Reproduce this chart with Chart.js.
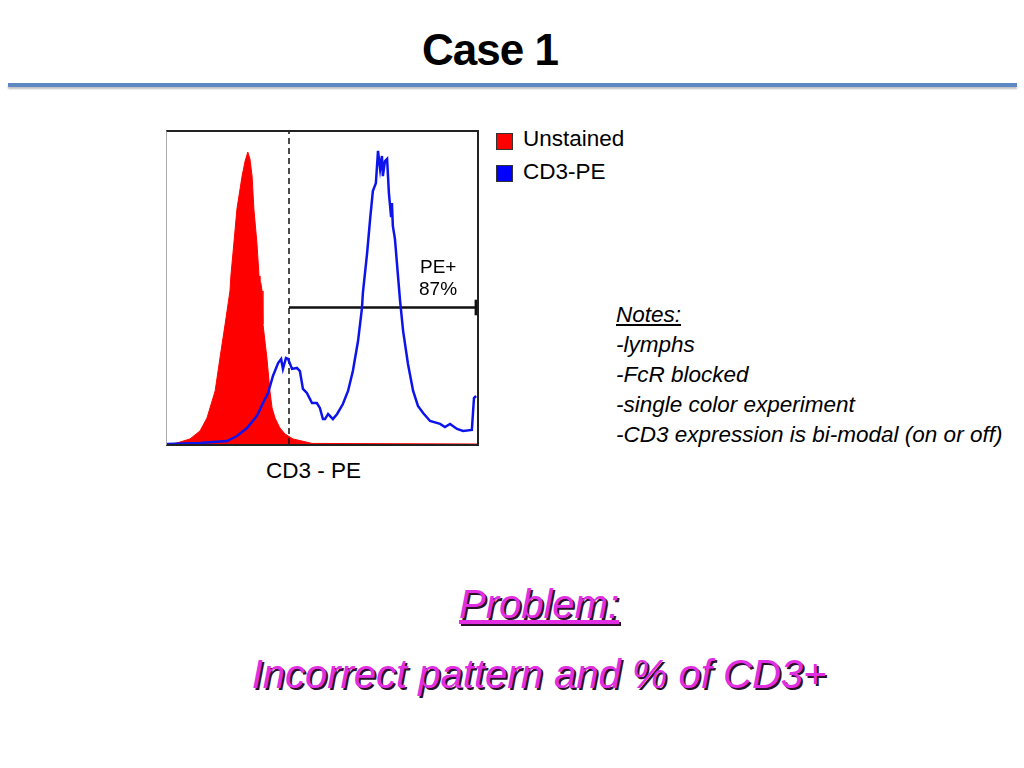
<!DOCTYPE html>
<html lang="en">
<head>
    <meta charset="UTF-8">
    <title>Case 1</title>
    <style>
        body {
            margin: 0;
            width: 1024px;
            height: 768px;
            position: relative;
            background: #fff;
            font-family: "Liberation Sans", Arial, sans-serif;
            color: #000;
            overflow: hidden;
        }
        .txt {
            position: absolute;
            line-height: 1;
            white-space: nowrap;
        }
        .title {
            left: 0;
            width: 980px;
            text-align: center;
            top: 28px;
            font-size: 44px;
            font-weight: bold;
            letter-spacing: -1px;
        }
        .rule {
            position: absolute;
            left: 8px;
            top: 83px;
            width: 1009px;
            height: 4px;
            background: #5e88c4;
            box-shadow: 0 2px 2px rgba(0,0,0,0.25);
        }
        .plot {
            position: absolute;
            left: 166px;
            top: 130px;
            border-top: 2px solid #222;
            border-right: 2px solid #222;
            border-bottom: 2px solid #222;
            border-left: 1px solid #aaa;
        }
        .plot canvas {
            display: block;
        }
        .swatch {
            position: absolute;
            width: 15px;
            height: 15px;
            border: 1px solid #333;
        }
        .label {
            font-size: 22.5px;
        }
        .notes {
            font-size: 22.5px;
            font-style: italic;
        }
        .problem {
            left: 0;
            width: 1078px;
            text-align: center;
            font-size: 40px;
            font-style: italic;
            color: #e22ee2;
            text-shadow: 2px 2px 0 #2a102a;
        }
    </style>
</head>
<body>
    <div class="txt title">Case 1</div>
    <div class="rule"></div>

    <div class="plot">
        <canvas id="histo" width="310" height="312"></canvas>
    </div>
    <div class="txt" style="left:420px; top:257px; font-size:19px;">PE+</div>
    <div class="txt" style="left:419px; top:279px; font-size:19px;">87%</div>

    <div class="swatch" style="left:496px; top:133px; background:#ff0000;"></div>
    <div class="txt label" style="left:523px; top:128px;">Unstained</div>
    <div class="swatch" style="left:496px; top:165px; background:#0000ff;"></div>
    <div class="txt label" style="left:523px; top:161px;">CD3-PE</div>

    <div class="txt label" style="left:266px; top:460px;">CD3 - PE</div>

    <div class="txt notes" style="left:616px; top:304px; text-decoration:underline;">Notes:</div>
    <div class="txt notes" style="left:616px; top:334px;">-lymphs</div>
    <div class="txt notes" style="left:616px; top:364px;">-FcR blocked</div>
    <div class="txt notes" style="left:616px; top:394px;">-single color experiment</div>
    <div class="txt notes" style="left:616px; top:424px;">-CD3 expression is bi-modal (on or off)</div>

    <div class="txt problem" style="top:584px; text-decoration:underline;">Problem:</div>
    <div class="txt problem" style="top:654px;">Incorrect pattern and % of CD3+</div>

    <script src="https://cdn.jsdelivr.net/npm/chart.js"></script>
    <script>
        // fluorescence channel (0-1024) and event counts
        const unstainedChannel = [0, 26, 43, 76, 109, 132, 159, 175, 192, 208, 211, 221, 231, 248, 258, 267, 274, 281, 287, 297, 304, 307, 310, 314, 317, 330, 340, 347, 357, 373, 390, 416, 446, 479, 1024];
        const unstainedCount = [0, 0.3, 1.0, 2.6, 6.7, 13.3, 27.2, 44.1, 61.5, 78.5, 86.2, 103.1, 120.5, 137.4, 145.1, 149.7, 146.2, 137.4, 120.5, 103.1, 86.2, 83.6, 82.6, 78.5, 61.5, 44.1, 27.2, 18.5, 13.3, 8.2, 5.1, 2.6, 1.5, 0.3, 0];

        const cd3Channel = [0, 109, 198, 231, 264, 297, 317, 334, 350, 367, 377, 383, 393, 400, 413, 429, 439, 449, 462, 479, 495, 505, 515, 522, 532, 538, 548, 562, 581, 598, 614, 631, 644, 647, 661, 671, 680, 690, 697, 704, 710, 713, 720, 727, 733, 740, 743, 746, 753, 763, 770, 780, 796, 813, 829, 846, 869, 902, 918, 935, 958, 978, 1007, 1014, 1021];
        const cd3Count = [0, 0.5, 1.5, 4.1, 8.2, 14.4, 21.0, 26.2, 34.9, 41.5, 43.6, 38.5, 44.1, 43.6, 38.5, 39.0, 37.4, 28.2, 26.2, 21.0, 21.0, 18.5, 12.8, 12.8, 15.4, 14.4, 12.8, 15.4, 20.5, 27.2, 37.4, 52.8, 69.7, 77.4, 97.9, 115.4, 129.7, 133.8, 150.3, 141.0, 147.7, 137.4, 145.1, 146.2, 128.7, 116.9, 123.6, 111.8, 105.1, 86.2, 73.3, 57.9, 41.0, 27.2, 19.5, 15.9, 11.8, 10.3, 8.7, 10.3, 7.7, 6.7, 7.2, 23.6, 24.6];

        // PE+ gate: threshold marker and marker bar
        const gateStart = 403;
        const gateEnd = 1021;
        const gateLevel = 70;
        const gateTick = [66, 74];
        const countMax = 160;

        function toPoints(xs, ys) {
            return xs.map((x, i) => ({ x: x, y: ys[i] }));
        }

        const ctx = document.getElementById('histo').getContext('2d');
        new Chart(ctx, {
            type: 'line',
            data: {
                datasets: [
                    {
                        label: 'CD3-PE',
                        data: toPoints(cd3Channel, cd3Count),
                        borderColor: 'rgb(12, 20, 235)',
                        borderWidth: 2.5,
                        pointRadius: 0,
                        fill: false,
                        tension: 0,
                        order: 0
                    },
                    {
                        label: 'threshold',
                        data: [{ x: gateStart, y: 0 }, { x: gateStart, y: countMax }],
                        borderColor: '#111',
                        borderWidth: 1.5,
                        borderDash: [6, 4],
                        pointRadius: 0,
                        fill: false,
                        order: 1
                    },
                    {
                        label: 'gate',
                        data: [{ x: gateStart, y: gateLevel }, { x: gateEnd, y: gateLevel }],
                        borderColor: '#111',
                        borderWidth: 2.5,
                        pointRadius: 0,
                        fill: false,
                        order: 1
                    },
                    {
                        label: 'gate end',
                        data: [{ x: gateEnd, y: gateTick[0] }, { x: gateEnd, y: gateTick[1] }],
                        borderColor: '#111',
                        borderWidth: 3,
                        pointRadius: 0,
                        fill: false,
                        order: 1
                    },
                    {
                        label: 'Unstained',
                        data: toPoints(unstainedChannel, unstainedCount),
                        borderColor: '#ff0000',
                        backgroundColor: '#ff0000',
                        borderWidth: 1,
                        pointRadius: 0,
                        fill: 'origin',
                        tension: 0,
                        order: 3
                    }
                ]
            },
            options: {
                responsive: false,
                animation: false,
                layout: { padding: 0 },
                plugins: {
                    legend: { display: false },
                    tooltip: { enabled: false }
                },
                scales: {
                    x: { type: 'linear', min: 0, max: 1024, display: false },
                    y: { type: 'linear', min: 0, max: countMax, display: false }
                }
            }
        });
    </script>
</body>
</html>
